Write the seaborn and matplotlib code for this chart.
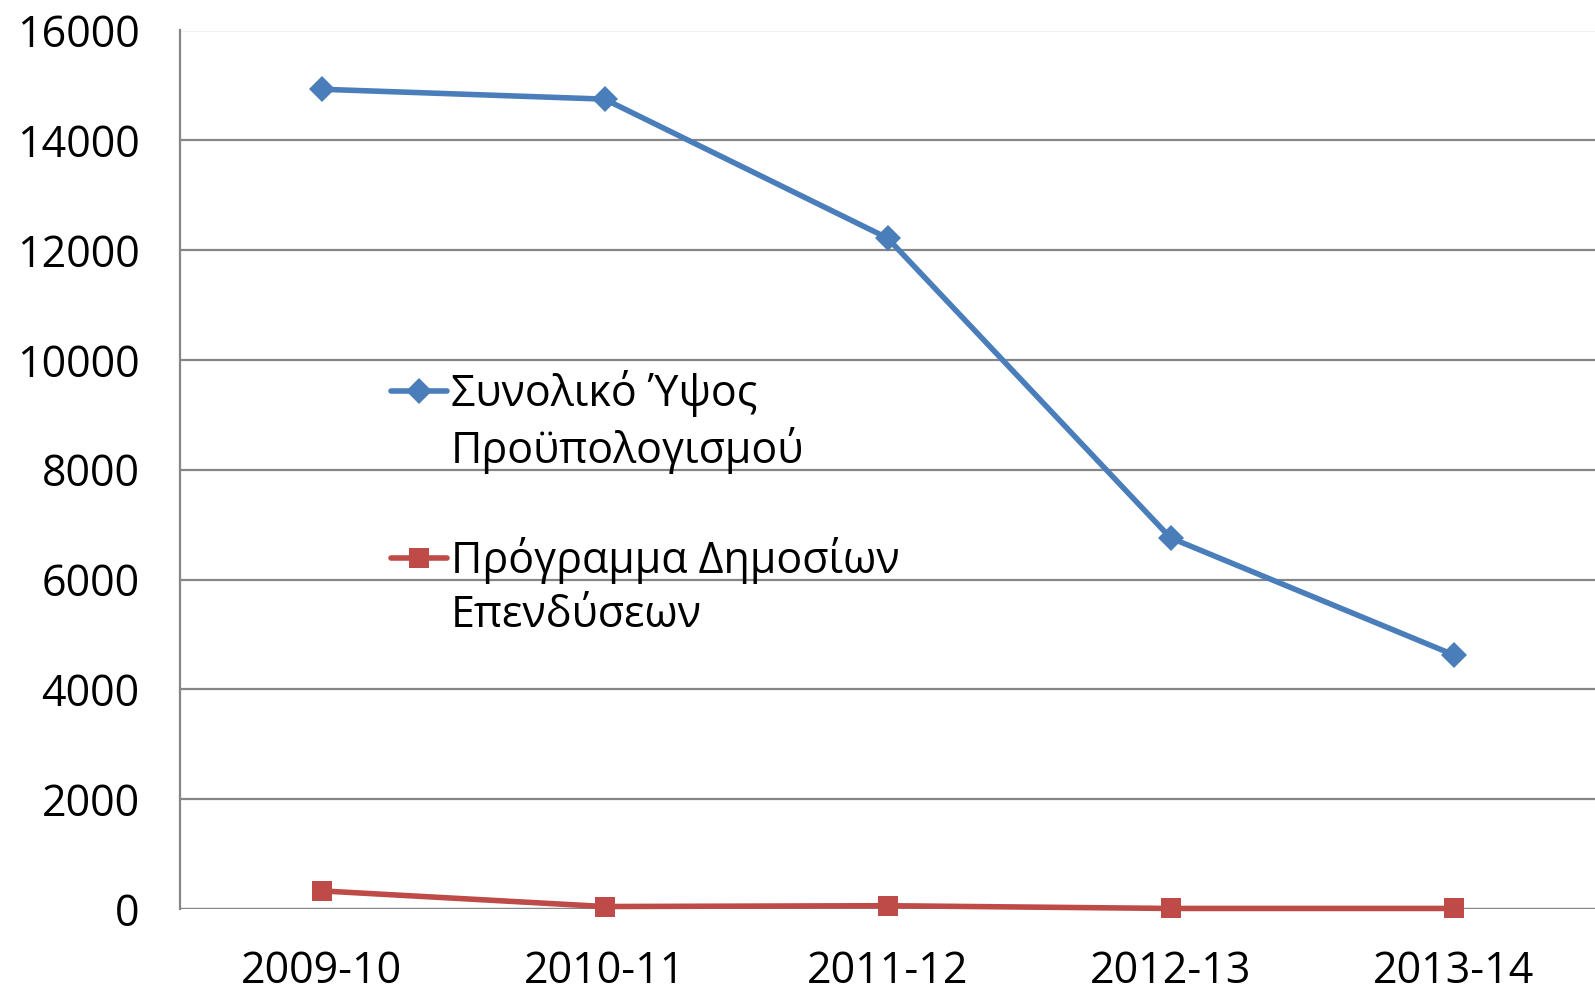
import numpy as np
import pandas as pd
import matplotlib
matplotlib.use("Agg")
import matplotlib.pyplot as plt
from matplotlib.lines import Line2D
import seaborn as sns

years = ["2009-10", "2010-11", "2011-12", "2012-13", "2013-14"]
total_budget = [14930, 14750, 12220, 6760, 4630]
pde = [330, 45, 60, 10, 10]
labels = ["Συνολικό Ύψος\nΠροϋπολογισμού", "Πρόγραμμα Δημοσίων\nΕπενδύσεων"]

sns.set_style("white")
plt.rcParams['font.family'] = ['Open Sans', 'DejaVu Sans']
plt.rcParams['text.color'] = 'black'

grid_col = '#868686'
blue = '#4A7EBB'
red = '#BE4B48'

fig = plt.figure(figsize=(15.95, 9.92), dpi=100)
ax = fig.add_axes([180/1595, 83/992, 1415/1595, 878.5/992])

df = pd.DataFrame({'year': years, 'total': total_budget, 'pde': pde})
sns.lineplot(data=df, x='year', y='total', color=blue, lw=4, marker='D',
             markersize=13, markeredgewidth=0, sort=False, ax=ax, clip_on=False)
sns.lineplot(data=df, x='year', y='pde', color=red, lw=4, marker='s',
             markersize=15, markeredgewidth=0, sort=False, ax=ax, clip_on=False)

ax.set_xlim(-0.5, 4.5)
ax.set_ylim(0, 16000)
ax.set_yticks(np.arange(0, 16001, 2000))
ax.set_xlabel('')
ax.set_ylabel('')

for s in ['top', 'right', 'bottom']:
    ax.spines[s].set_visible(False)
ax.spines['left'].set_color(grid_col)
ax.spines['left'].set_linewidth(1.6)

ax.grid(axis='y', color=grid_col, lw=1.6)
ax.set_axisbelow(True)
ax.tick_params(axis='y', length=12, width=1.6, color=grid_col, labelsize=31,
               pad=17, labelcolor='black')
ax.tick_params(axis='x', which='major', length=0, labelsize=31, pad=29,
               labelcolor='black')
ax.set_xticks(np.arange(-0.5, 4.0, 1.0), minor=True)
ax.tick_params(axis='x', which='minor', length=12, width=1.6, color=grid_col, direction='out')
ax.axhline(0, color=grid_col, lw=1.6, zorder=1)

# legend: handle sits on the first line of each label, as in the source
blank = Line2D([], [], alpha=0)
h_blue = Line2D([], [], color=blue, lw=4, marker='D', markersize=13, markeredgewidth=0)
h_red = Line2D([], [], color=red, lw=4, marker='s', markersize=15, markeredgewidth=0)
l1 = labels[0].split('\n')
l2 = labels[1].split('\n')
leg = ax.legend([h_blue, blank, blank, h_red, blank], [l1[0], l1[1], ' ', l2[0], l2[1]],
                loc='upper left', bbox_to_anchor=(0.134, 0.638), frameon=False,
                fontsize=31, handlelength=1.3, handletextpad=0.08,
                labelspacing=0.22, borderpad=0)

fig.savefig('out.png', dpi=100)
